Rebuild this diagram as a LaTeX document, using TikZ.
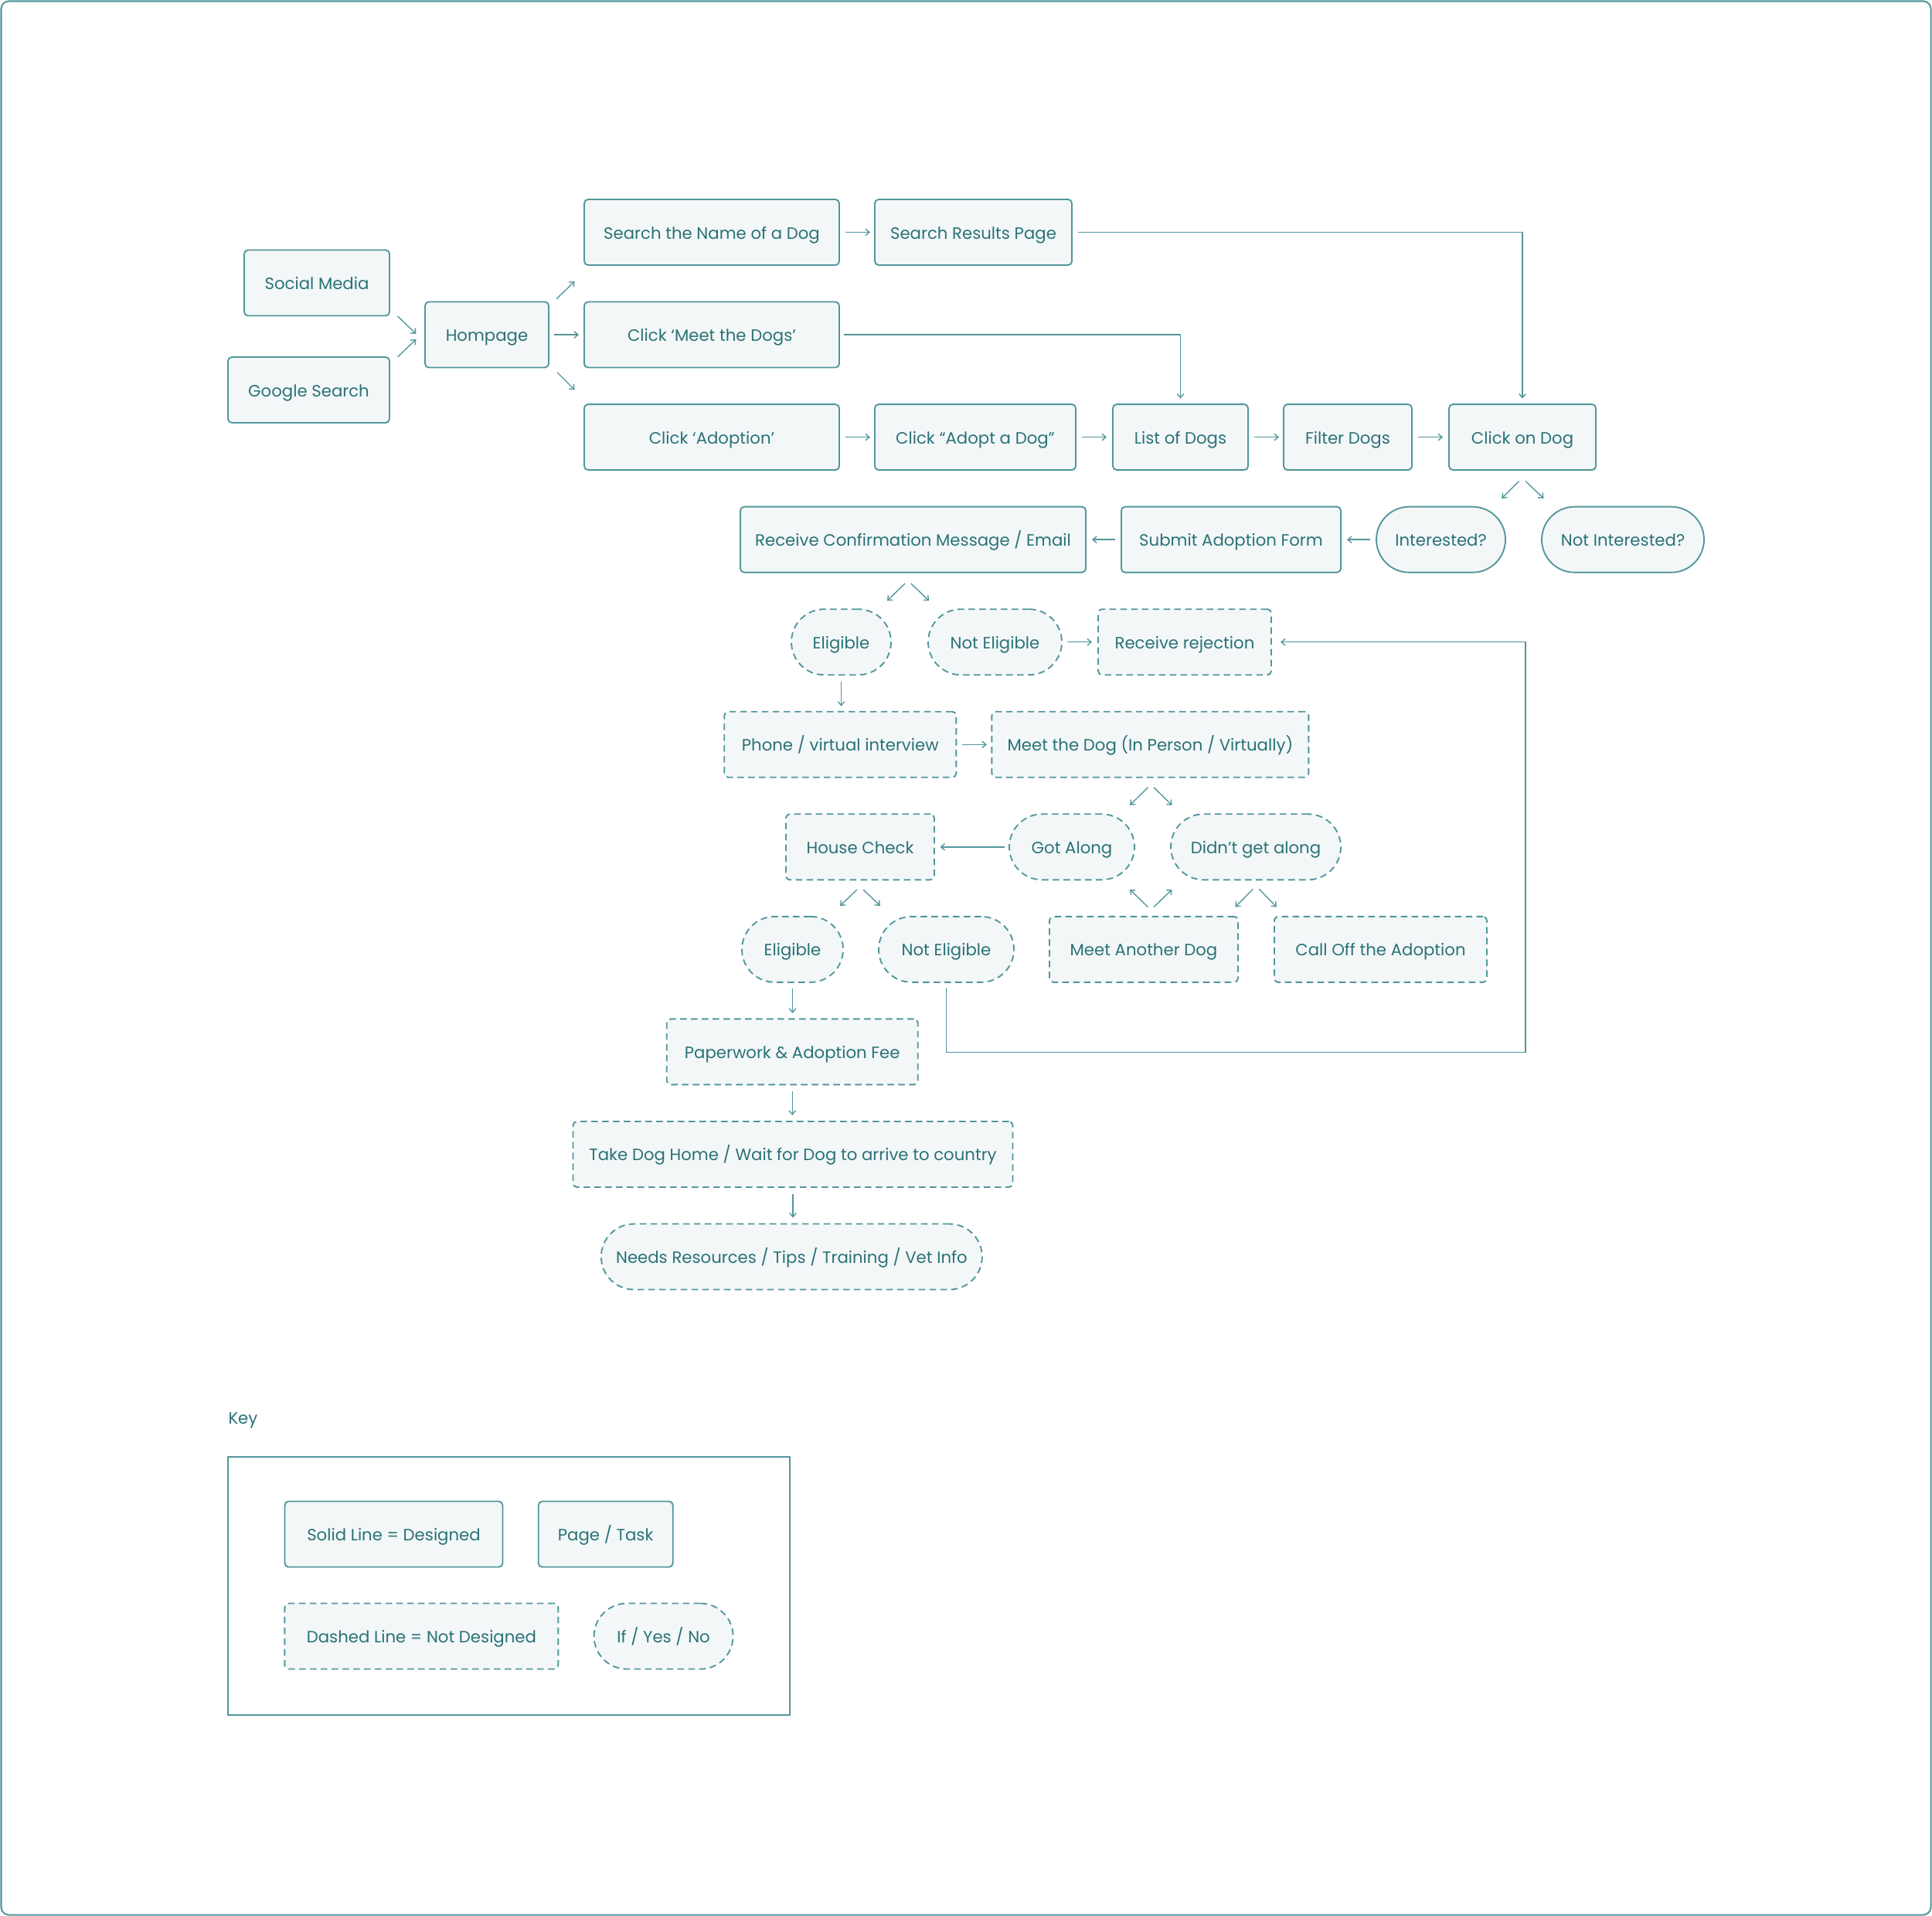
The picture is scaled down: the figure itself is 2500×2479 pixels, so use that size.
\documentclass[tikz,border=0pt]{standalone}
\usepackage{fontspec}
\setmainfont{Poppins}
\usetikzlibrary{arrows.meta,calc}
\definecolor{tl}{RGB}{82,150,155}
\definecolor{tt}{RGB}{42,114,118}
\definecolor{fl}{RGB}{243,247,248}
\begin{document}
\begin{tikzpicture}[x=0.4pt,y=-0.4pt,
 base/.style={draw=tl, line width=0.75pt, fill=fl, text=tt, inner sep=0pt, outer sep=0pt,
   font=\fontsize{8.5}{10}\selectfont, minimum height=34pt, text height=6.8pt, text depth=0pt},
 box/.style={base, rounded corners=2pt},
 dbox/.style={box, dash pattern=on 3.4pt off 2.2pt},
 pill/.style={base, rounded corners=17pt},
 dpill/.style={pill, dash pattern=on 3.4pt off 2.2pt},
 wd/.style={minimum width=#1*0.4pt},
 arr/.style={draw=tl, line width=0.55pt, -{Straight Barb[length=2pt,width=3.4pt]}},
]
\useasboundingbox (0,0) rectangle (2500,2479);
\draw[tl, line width=0.8pt, rounded corners=4pt] (1.5,1.5) rectangle (2498.5,2477.5);

% rows
\def\ra{300.5}\def\rb{433.05}\def\rc{565.6}\def\rd{698.15}\def\re{830.7}
\def\rf{963.25}\def\rg{1095.8}\def\rh{1228.35}\def\ri{1360.9}\def\rj{1493.45}\def\rk{1626}

\node[box, wd=188] (sm) at (410,366) {Social Media};
\node[box, wd=209] (gs) at (399.5,504.5) {Google Search};
\node[box, wd=160] (hp) at (630,\rb) {Hompage};
\node[box, wd=330] (sn) at (921,\ra) {Search the Name of a Dog};
\node[box, wd=255] (sr) at (1259.5,\ra) {Search Results Page};
\node[box, wd=330] (md) at (921,\rb) {Click ‘Meet the Dogs’};
\node[box, wd=330] (ca) at (921,\rc) {Click ‘Adoption’};
\node[box, wd=260] (ad) at (1262,\rc) {Click “Adopt a Dog”};
\node[box, wd=175] (ld) at (1527.5,\rc) {List of Dogs};
\node[box, wd=166] (fd) at (1744,\rc) {Filter Dogs};
\node[box, wd=190] (cd) at (1970,\rc) {Click on Dog};

\node[box, wd=447] (rcf) at (1181.5,\rd) {Receive Confirmation Message / Email};
\node[box, wd=284] (sa) at (1593,\rd) {Submit Adoption Form};
\node[pill, wd=167] (in) at (1864.5,\rd) {Interested?};
\node[pill, wd=210] (ni) at (2100,\rd) {Not Interested?};

\node[dpill, wd=129] (el) at (1088.5,\re) {Eligible};
\node[dpill, wd=173] (ne) at (1287.5,\re) {Not Eligible};
\node[dbox, wd=224] (rr) at (1533,\re) {Receive rejection};

\node[dbox, wd=300] (pv) at (1087.3,\rf) {Phone / virtual interview};
\node[dbox, wd=410] (mt) at (1488.4,\rf) {Meet the Dog (In Person / Virtually)};

\node[dbox, wd=192] (hc) at (1113,\rg) {House Check};
\node[dpill, wd=162] (ga) at (1387,\rg) {Got Along};
\node[dpill, wd=220] (dg) at (1625,\rg) {Didn’t get along};

\node[dpill, wd=131] (el2) at (1025.5,\rh) {Eligible};
\node[dpill, wd=175] (ne2) at (1224.5,\rh) {Not Eligible};
\node[dbox, wd=244] (ma) at (1480,\rh) {Meet Another Dog};
\node[dbox, wd=275] (co) at (1786.5,\rh) {Call Off the Adoption};

\node[dbox, wd=325] (pw) at (1025.2,\ri) {Paperwork \& Adoption Fee};
\node[dbox, wd=569] (tk) at (1026,\rj) {Take Dog Home / Wait for Dog to arrive to country};
\node[dpill, wd=493] (nr) at (1024.4,\rk) {Needs Resources / Tips / Training / Vet Info};

% key
\node[text=tt, anchor=west, inner sep=0pt, font=\fontsize{8.5}{10}\selectfont] (key) at (295,1838) {Key};
\node[draw=tl, line width=0.75pt, inner sep=0pt, minimum width=727*0.4pt, minimum height=334.5*0.4pt] (kb) at (658.5,2052) {};
\node[box, wd=282] (k1) at (509.5,1985) {Solid Line = Designed};
\node[box, wd=174] (k2) at (783.7,1985) {Page / Task};
\node[dbox, wd=354] (k3) at (545.4,2117) {Dashed Line = Not Designed};
\node[dpill, wd=180] (k4) at (858.6,2117) {If / Yes / No};

% connectors
\draw[arr] ($(hp.west)+(-35.5,-24)$) -- ($(hp.west)+(-11.5,-1)$);
\draw[arr] ($(hp.west)+(-35.5,28.7)$) -- ($(hp.west)+(-11.5,6)$);
\draw[arr] ($(hp.east)+(10,-46.3)$) -- ($(hp.east)+(33.6,-69)$);
\draw[arr, shorten <=2.6pt, shorten >=2.8pt] (hp.east) -- (md.west);
\draw[arr] ($(hp.east)+(11,48.7)$) -- ($(hp.east)+(33.6,71.3)$);

\draw[arr, shorten <=3.2pt, shorten >=2.4pt] (sn.east) -- (sr.west);
\draw[arr] ([xshift=3.2pt]sr.east) -| ([yshift=3pt]cd.north);
\draw[arr] ([xshift=2.4pt]md.east) -| ([yshift=3pt]ld.north);
\draw[arr, shorten <=3.2pt, shorten >=2.4pt] (ca.east) -- (ad.west);
\draw[arr, shorten <=3.2pt, shorten >=3.2pt] (ad.east) -- (ld.west);
\draw[arr, shorten <=3.2pt, shorten >=2.4pt] (ld.east) -- (fd.west);
\draw[arr, shorten <=3.2pt, shorten >=3.2pt] (fd.east) -- (cd.west);

\draw[arr] ($(cd.south)+(-4.4,14.5)$) -- ($(cd.south)+(-26.8,36.8)$);
\draw[arr] ($(cd.south)+(4,14.5)$) -- ($(cd.south)+(27.5,36.8)$);
\draw[arr, shorten <=3.2pt, shorten >=3.2pt] (in.west) -- (sa.east);
\draw[arr, shorten <=3.2pt, shorten >=3.2pt] (sa.west) -- (rcf.east);

\draw[arr] ($(rcf.south)+(-10.5,14.3)$) -- ($(rcf.south)+(-33.5,36.7)$);
\draw[arr] ($(rcf.south)+(-2.7,14.3)$) -- ($(rcf.south)+(20.7,36.7)$);
\draw[arr, shorten <=2.8pt, shorten >=3.2pt] (ne.east) -- (rr.west);
\draw[arr, shorten <=3.6pt, shorten >=2.8pt] (el.south) -- (el.south |- pv.north);
\draw[arr, shorten <=3pt, shorten >=2.6pt] (pv.east) -- (mt.west);

\draw[arr] ($(mt.south)+(-3,13)$) -- ($(mt.south)+(-26.3,36)$);
\draw[arr] ($(mt.south)+(4.6,13)$) -- ($(mt.south)+(28.2,36)$);
\draw[arr, shorten <=2.4pt, shorten >=3pt] (ga.west) -- (hc.east);

\draw[arr] ($(hc.south)+(-4,12.7)$) -- ($(hc.south)+(-26,33.7)$);
\draw[arr] ($(hc.south)+(4,12.7)$) -- ($(hc.south)+(26,33.7)$);
\draw[arr] ($(ma.north)+(5.4,-12.3)$) -- ($(ma.north)+(-17.9,-35)$);
\draw[arr] ($(ma.north)+(13,-12.3)$) -- ($(ma.north)+(36.6,-35)$);
\draw[arr] ($(dg.south)+(-3.5,11.9)$) -- ($(dg.south)+(-26.7,35.2)$);
\draw[arr] ($(dg.south)+(4.1,11.9)$) -- ($(dg.south)+(26.9,35.2)$);

\coordinate (lp) at (1974,1361.6);
\draw[arr] ([yshift=-3pt]ne2.south) |- (lp) |- ([xshift=4.8pt]rr.east);

\draw[arr, shorten <=3.4pt, shorten >=3pt] (el2.south) -- (el2.south |- pw.north);
\draw[arr, shorten <=3.6pt, shorten >=3.2pt] (pw.south) -- (pw.south |- tk.north);
\draw[arr, shorten <=3.6pt, shorten >=3.2pt] (tk.south) -- (tk.south |- nr.north);
\end{tikzpicture}
\end{document}
